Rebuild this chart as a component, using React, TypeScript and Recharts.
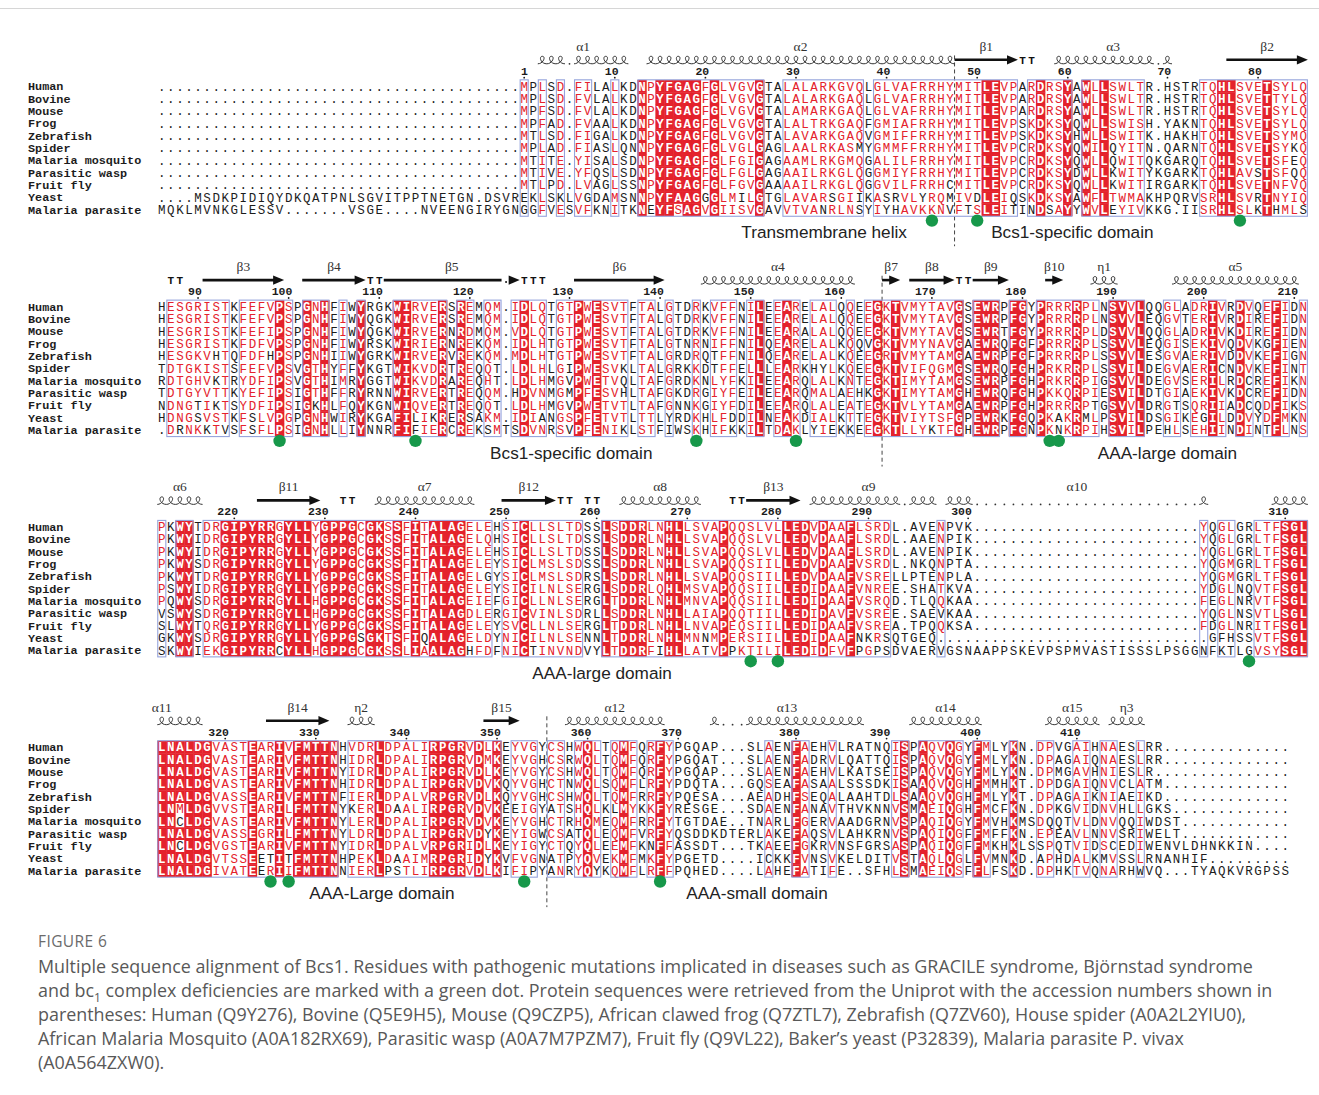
import React from 'react';
import { ScatterChart, Scatter, XAxis, YAxis, ReferenceLine } from 'recharts';

// ---- alignment data -------------------------------------------------------

const species = [
  'Human', 'Bovine', 'Mouse', 'Frog', 'Zebrafish', 'Spider',
  'Malaria mosquito', 'Parasitic wasp', 'Fruit fly', 'Yeast', 'Malaria parasite',
];

const D10 = '..........';

const block1 = [
  D10 + D10 + D10 + D10 + 'MP' + 'LSD.FILALKDNPYFGAGFGLVGVGTALALARKGVQLGLVAFR' + 'RHYMITLEVPARDRSYAWLLSWLTR.HSTRTQHLSVETSYLQ',
  D10 + D10 + D10 + D10 + 'MP' + 'LSD.FVLALKDNPYFGAGFGLVGVGTALALARKGAQLGLVAFR' + 'RHYMITLEVPARDRSYAWLLSWLTR.HSTRTQHLSVETTYLQ',
  D10 + D10 + D10 + D10 + 'MP' + 'FSD.FVLALKDNPYFGAGFGLVGVGTALAMARKGAQLGLVAFR' + 'RHYMITLEVPARDRSYAWLLSWLTR.HSTRTQHLSVETSYLQ',
  D10 + D10 + D10 + D10 + 'MP' + 'FAD.FVAALKDNPYFGAGFGLVGVGTALALTRKGAQFGMIAFR' + 'RHYMITLEVPSKDKSYQWLLSWISH.YAKNTQHLSVETSYLQ',
  D10 + D10 + D10 + D10 + 'MT' + 'LSD.FIGALKDNPYFGAGFGLVGVGTALAVARKGAQVGMIFFR' + 'RHYMITLEVPSKDKSYHWLLSWITK.HAKHTQHLSVETSYMQ',
  D10 + D10 + D10 + D10 + 'MP' + 'LAD.FIASLQNNPYFGAGFGLVGLGAGLAALRKASMYGMMFFR' + 'RHYMITLEVPCRDKSYQWILQYITN.QARNTQHLSVETSYKQ',
  D10 + D10 + D10 + D10 + 'MT' + 'ITE.YISALSDNPYFGAGFGLFGIGAGAAMLRKGMQGALILFR' + 'RHYMITLEVPCRDKSYQWLLQWITQKGARQTQHLSVETSFEQ',
  D10 + D10 + D10 + D10 + 'MT' + 'IVE.YFQSLSDNPYFGAGFGLFGLGAGAAILRKGLQGGMIYFR' + 'RHYMITLEVPCRDKSYDWLLKWITYKGARKTQHLAVSTSFQQ',
  D10 + D10 + D10 + D10 + 'MT' + 'LPD.LVAGLSSNPYFGAGFGLFGVGAAAAILRKGLQGGVILFR' + 'RHCMITLEVPCRDKSYQWLLKWITIRGARKTQHLSVETNFVQ',
  '....MSDKPIDIQYDKQATPNLSGVITPPTNETGN.DSVREK' + 'LSKLVGDAMSNNPYFAAGGGLMILGTGLAVARSGIIKASRVLY' + 'RQMIVDLEIQSKDKSYAWFLTWMAKHPQRVSRHLSVRTNYIQ',
  'MQKLMVNKGLESSV.......VSGE....NVEENGIRYGNGG' + 'FVESVFKNITKNEYFSAGVGIISVGAVVTVANRLNSYIYHAVK' + 'KNVFTSLEITINDSAYYWVLEYIVKKG.IISRHLSLKTHMLS',
];

const block2 = [
  'HESGRISTKFEFVPSPGNHFIWYRGKWIRVERSREMQM.IDLQ' + 'TGTPWESVTFTALGTDRKVFFNILEEARELALQQEEGKTVMY' + 'TAVGSEWRPFGYPRRRRPLNSVVLQQGLADRIVRDVQEFIDN',
  'HESGRISTKFEFVPSPGNHFIWYQGKWIRVERSREMQM.IDLQ' + 'TGTPWESVTFTALGTDRKVFFNILEEARELALQQEEGKTVMY' + 'TAVGSEWRPFGYPRRRRPLNSVVLEQGVTERIVRDIREFIDN',
  'HESGRISTKFEFIPSPGNHFIWYQGKWIRVERNRDMQM.VDLQ' + 'TGTPWESVTFTALGTDRKVFFNILEEARALALQQEEGKTVMY' + 'TAVGSEWRTFGYPRRRRPLDSVVLQQGLADRIVKDIREFIDN',
  'HESGRISTKFDFVPSPGNHFIWYRSKWIRIERNREKQM.IDLH' + 'TGTPWESVTFTALGTNRNIFFNILQEARELALKQQVGKTVMY' + 'NAVGAEWRQFGFPRRRRPLSSVVLEQGISEKIVQDVKGFIEN',
  'HESGKVHTQFDFHPSPGNHIIWYGRKWIRVERVREKQM.MDLH' + 'TGTPWESVTFTALGRDRQTFFNILQEARELALKQEEGRTVMY' + 'TAMGAEWRPFGFPRRRRPLSSVVLESGVAERIVDDVKEFIGN',
  'TDTGKISTSFEFVPSVGTHYFFYKGTWIKVDRTREQQT.LDLH' + 'LGIPWESVKLTALGRKKDTFFELLLEARKHYLKQEEGKTVIF' + 'QGMGSEWRQFGHPRKRRPLSSVILDEGVAERICNDVKEFINT',
  'RDTGHVKTRYDFIPSVGTHIMRYGGTWIKVDRAREQHT.LDLH' + 'MGVPWETVQLTAFGRDKNLYFKILEEARQLALKNTEGKTIMY' + 'TAMGSEWRPFGHPRKRRPIGSVVLDEGVSERILRDCREFIKN',
  'TDTGYVTTKYEFIPSIGTHFFRYRNNWIRVERTREQQM.HDVN' + 'MGMPFESVHLTAFGKDRGIYFEILEEARQMALAEHKGKTIMY' + 'TAMGHEWRQFGHPKKQRPIESVILDTGIAEKIVKDCREFIDN',
  'NDNGTIKTSYDFIPSIGKHLFQYKGNWIQVERTREQQT.LDLH' + 'MGVPWETVTLTAFGNNKGIYFDILEEARQLALEATEGKTVLY' + 'TAMGAEWRPFGHPRRRRPTGSVVLDRGTSQRIIADCQDFIKS',
  'HDNGSVSTKFSLVPGPGNHWIRYKGAFILIKRERSAKM.IDIA' + 'NGSPFETVTLTTLYRDKHLFDDILNEAKDIALKTTEGKTVIY' + 'TSFGPEWRKFGQPKAKRMLPSVILDSGIKEGILDDVYDFMKN',
  '.DRNKKTVSFSFLPSIGNHLLIYNNRFIFIERCREKSMTSDVN' + 'RSVPFENIKLSTFIWSKHIFKKILTDAKLYIEKKEEGKTLLY' + 'KTFGHEWRPFGNPKNKRPIHSVILPEHLSEHIINDINTFLNS',
];

const block3 = [
  'PKWYTDRGIPYRRGYLLYGPPGCGKSSFITALAGELEHSICLL' + 'SLTDSSLSDDRLNHLLSVAPQQSLVLLEDVDAAFLSRDL.AV' + 'ENPVK' + D10 + D10 + '.....' + 'YQGLGRLTFSGL',
  'PKWYIDRGIPYRRGYLLYGPPGCGKSSFITALAGELQHSICLL' + 'SLTDSSLSDDRLNHLLSVAPQQSLVLLEDVDAAFLSRDL.AA' + 'ENPIK' + D10 + D10 + '.....' + 'YQGLGRLTFSGL',
  'PKWYIDRGIPYRRGYLLYGPPGCGKSSFITALAGELEHSICLL' + 'SLTDSSLSDDRLNHLLSVAPQQSLVLLEDVDAAFLSRDL.AV' + 'ENPIK' + D10 + D10 + '.....' + 'YQGLGRLTFSGL',
  'PKWYSDRGIPYRRGYLLYGPPGCGKSSFITALAGELEYSICLM' + 'SLSDSSLSDDRLNHLLSVAPQQSIILLEDVDAAFVSRDL.NK' + 'QNPTA' + D10 + D10 + '.....' + 'YQGMGRLTFSGL',
  'PKWYTDRGIPYRRGYLLYGPPGCGKSSFITALAGELGYSICLM' + 'SLSDRSLSDDRLNHLLSVAPQQSIILLEDVDAAFVSRELLPT' + 'ENPLA' + D10 + D10 + '.....' + 'YQGMGRLTFSGL',
  'PSWYIDRGIPYRRGYLLYGPPGCGKSSFITALAGELEYSICIL' + 'NLSERGLSDDRLQHLMSVAPQQSIILLEDIDAAFVNREE.SH' + 'ATKVA' + D10 + D10 + '.....' + 'YDGLNQVTFSGL',
  'PQWYSDRGIPYRRGYLLHGPPGCGKSSFITALAGEIEFGICLL' + 'NLSERGLTDDRLNHLMNVAPQQSIILLEDIDAAFVSRQD.TL' + 'QQKAA' + D10 + D10 + '.....' + 'FEGLNRVTFSGL',
  'VSWYSDRGIPYRRGYLLHGPPGCGKSSFITALAGDLERGICVI' + 'NLSDRLLSDDRLNHLLAIAPQQTIILLEDIDAVFVSREE.SA' + 'EVKAA' + D10 + D10 + '.....' + 'YQGLNSVTLSGL',
  'SLWYTQRGIPYRRGYLLYGPPGCGKSSFITALAGELEYSVCLL' + 'NLSERGLTDDRLNHLLNVAPEQSIILLEDIDAAFVSREA.TP' + 'QQKSA' + D10 + D10 + '.....' + 'FDGLNRITFSGL',
  'GKWYSDRGIPYRRGYLLYGPPGSGKTSFIQALAGELDYNICIL' + 'NLSENNLTDDRLNHLMNNMPERSIILLEDIDAAFNKRSQTGE' + 'Q' + D10 + D10 + D10 + 'GFHSSVTFSGL',
  'SKWYIEKGIPYRRCYLLHGPPGCGKSSLIAALAGHFDFNICTI' + 'NVNDVYLTDDRFIHLLATVPPKTILILEDIDFVFPGPSDVAE' + 'RVGSNAAPPSKEVPSPMVASTISSSLPSGGNFKTLGVSYSGL',
];

const block4 = [
  'LNALDGVASTEARIVFMTTNHVDRLDPALIRPGRVDLKEYVGY' + 'CSHWQLTQMFQRFYPGQAP...SLAENFAEHVLRATNQISPA' + 'QVQGYFMLYKN.DPVGAIHNAESLRR' + D10 + '....',
  'LNALDGVASTEARIVFMTTNHIDRLDPALIRPGRVDMKEYVGH' + 'CSRWQLTQMFQRFYPGQAT...SLAENFADRVLQATTQISPA' + 'QVQGYFMLYKN.DPAGAIQNAESLRR' + D10 + '....',
  'LNALDGVASTEARIVFMTTNYIDRLDPALIRPGRVDLKEYVGY' + 'CSHWQLTQMFQRFYPGQAP...SLAENFAEHVLKATSEISPA' + 'QVQGYFMLYKN.DPMGAVHNIESLR' + D10 + '.....',
  'LNALDGVASTEARIVFMTTNHIDRLDPALIRPGRVDVKQYVGH' + 'CTNWQLSQMFLRFYPDQTA...GQSEAFASAALSSSDKISAA' + 'QVQGHFMMHKT.DPDGAIQNVCLATM' + D10 + '....',
  'LNALDGVASSEARIVFMTTNFIERLDPALVRPGRVDLKQYVGH' + 'CSHWQLTQMFRRFYPQESA...AEADHFSEQALAAHTDLSAA' + 'QVQGHFMLYKT.DPAGAIKNIAEIKD' + D10 + '....',
  'LNMLDGVVSTEARILFMTTNYKERLDAALIRPGRVDVKEEIGY' + 'ATSHQLKLMYKKFYRESGE...SDAENFANAVTHVKNNVSMA' + 'EIQGHFMCFKN.DPKGVIDNVHLLGKS' + D10 + '...',
  'LNCLDGVASTEARIVFMTTNYLERLDPALIRPGRVDVKEYVGH' + 'CTRHQMEQMFRRFYTGTDAE..TNARLFGERVAADGRNVSPA' + 'QIQGYFMVHKMSDQQTVLDNVQQIWDST' + D10 + '..',
  'LNALDGVASSEGRILFMTTNYLDRLDPALIRPGRVDYKEYIGW' + 'CSATQLEQMFVRFYQSDDKDTERLAKEFAQSVLAHKRNVSPA' + 'QIQGFFMFFKN.EPEAVLNNVSRIWELT' + D10 + '..',
  'LNCLDGVGSTEARIVFMTTNYIDRLDPALVRPGRIDLKEYIGY' + 'CTQYQLEEMFKNFFASSDT...TKAEEFGKRVNSFGRSASPA' + 'QIQGFFMKHKLSSPQTVIDSCEDIWENVLDHNKKIN' + '....',
  'LNALDGVTSSEETITFMTTNHPEKLDAAIMRPGRIDYKVFVGN' + 'ATPYQVEKMFMKFYPGETD....ICKKFVNSVKELDITVSTA' + 'QLQGLFVMNKD.APHDALKMVSSLRNANHIF' + '.........',
  'LNALDGIVATEERIIFMTTNNIERLPSTLIRPGRVDLKIFIPY' + 'ANRYQYKQMFLRFFPQHED....LAHEFATIFE..SFHLSMA' + 'EIQSFFLFSKD.DPHKTVQNARHWVQ...TYAQKVRGPSS',
];

// framed (similar) column runs and strongly conserved columns, per block
const boxes1 = [[40, 40], [42, 42], [44, 44], [46, 47], [50, 50], [53, 66], [69, 77], [79, 94], [96, 100], [102, 108], [115, 126]];
const red1 = [53, 55, 56, 57, 58, 59, 61, 66, 91, 92, 97, 100, 102, 104, 117, 118, 122];

const boxes2 = [[1, 7], [9, 14], [16, 18], [20, 20], [22, 22], [26, 31], [33, 34], [36, 37], [39, 42], [44, 51], [53, 54], [56, 56], [59, 59], [61, 63], [65, 66], [68, 70], [72, 74], [76, 76], [78, 88], [90, 92], [94, 95], [97, 103], [105, 108], [111, 112], [114, 117], [119, 120], [122, 124], [126, 126]];
const red2 = [13, 16, 18, 22, 26, 27, 31, 33, 40, 46, 48, 66, 69, 79, 81, 88, 90, 91, 92, 94, 95, 97, 101, 105, 106, 108, 116, 119, 123];

const boxes3 = [[0, 0], [2, 3], [5, 36], [38, 46], [49, 80], [86, 86], [115, 115], [117, 118], [121, 126]];
const red3 = [2, 3, 7, 8, 9, 10, 11, 12, 14, 15, 16, 18, 19, 20, 21, 23, 24, 26, 28, 30, 31, 32, 33, 40, 49, 51, 52, 53, 56, 57, 62, 69, 70, 71, 73, 76, 124, 125, 126];

const boxes4 = [[0, 19], [21, 37], [39, 41], [43, 44], [46, 48], [50, 52], [54, 56], [67, 67], [70, 71], [74, 74], [81, 82], [84, 88], [90, 91], [94, 94], [97, 98], [101, 102], [104, 105], [108, 108]];
const red4 = [0, 1, 2, 3, 4, 5, 10, 13, 15, 16, 17, 18, 19, 24, 30, 31, 32, 33, 35, 37, 47, 51, 55, 70, 82, 84, 87, 90, 94];

// residue numbering shown above each block: [column, label]
const nums1 = [[40, '1'], [50, '10'], [60, '20'], [70, '30'], [80, '40'], [90, '50'], [100, '60'], [111, '70'], [121, '80']];
const nums2 = [[4, '90'], [14, '100'], [24, '110'], [34, '120'], [45, '130'], [55, '140'], [65, '150'], [75, '160'], [85, '170'], [95, '180'], [105, '190'], [115, '200'], [125, '210']];
const nums3 = [[8, '220'], [18, '230'], [28, '240'], [38, '250'], [48, '260'], [58, '270'], [68, '280'], [78, '290'], [89, '300'], [124, '310']];
const nums4 = [[7, '320'], [17, '330'], [27, '340'], [37, '350'], [47, '360'], [57, '370'], [70, '380'], [80, '390'], [90, '400'], [101, '410']];

// secondary structure: helix / strand / turn, column ranges
type Sse = { kind: 'helix' | 'strand' | 'turn'; from: number; to: number; label?: string; labelAt?: number; gaps?: number[][] };
const sse1: Sse[] = [
  { kind: 'helix', from: 42, to: 51, gaps: [[45, 45]], label: 'α1' },
  { kind: 'helix', from: 54, to: 87, label: 'α2' },
  { kind: 'strand', from: 88, to: 94, label: 'β1' },
  { kind: 'turn', from: 95, to: 96 },
  { kind: 'helix', from: 99, to: 111, gaps: [[110, 110]], label: 'α3' },
  { kind: 'strand', from: 118, to: 126, label: 'β2' },
];
const sse2: Sse[] = [
  { kind: 'turn', from: 1, to: 2 },
  { kind: 'strand', from: 5, to: 13, label: 'β3' },
  { kind: 'strand', from: 16, to: 22, label: 'β4' },
  { kind: 'turn', from: 23, to: 24 },
  { kind: 'strand', from: 25, to: 39, gaps: [[38, 38]], label: 'β5', labelAt: 32 },
  { kind: 'turn', from: 40, to: 42 },
  { kind: 'strand', from: 46, to: 55, label: 'β6' },
  { kind: 'helix', from: 60, to: 76, label: 'α4' },
  { kind: 'strand', from: 80, to: 81, label: 'β7' },
  { kind: 'strand', from: 83, to: 87, label: 'β8' },
  { kind: 'turn', from: 88, to: 89 },
  { kind: 'strand', from: 90, to: 93, label: 'β9' },
  { kind: 'strand', from: 98, to: 99, label: 'β10' },
  { kind: 'helix', from: 103, to: 105, label: 'η1' },
  { kind: 'helix', from: 112, to: 125, label: 'α5' },
];
const sse3: Sse[] = [
  { kind: 'helix', from: 0, to: 4, label: 'α6' },
  { kind: 'strand', from: 11, to: 17, label: 'β11' },
  { kind: 'turn', from: 20, to: 21 },
  { kind: 'helix', from: 24, to: 34, label: 'α7' },
  { kind: 'strand', from: 38, to: 43, label: 'β12' },
  { kind: 'turn', from: 44, to: 45 },
  { kind: 'turn', from: 47, to: 48 },
  { kind: 'helix', from: 51, to: 59, label: 'α8' },
  { kind: 'turn', from: 63, to: 64 },
  { kind: 'strand', from: 65, to: 70, label: 'β13' },
  { kind: 'helix', from: 72, to: 85, gaps: [[82, 82]], label: 'α9', labelAt: 78 },
  { kind: 'helix', from: 87, to: 115, gaps: [[90, 114]], label: 'α10', labelAt: 101 },
  { kind: 'helix', from: 123, to: 126 },
];
const sse4: Sse[] = [
  { kind: 'helix', from: 0, to: 4, label: 'α11', labelAt: 0 },
  { kind: 'strand', from: 12, to: 18, label: 'β14' },
  { kind: 'helix', from: 21, to: 23, label: 'η2' },
  { kind: 'strand', from: 36, to: 39, label: 'β15' },
  { kind: 'helix', from: 45, to: 55, label: 'α12' },
  { kind: 'helix', from: 61, to: 77, gaps: [[62, 64]], label: 'α13', labelAt: 69 },
  { kind: 'helix', from: 83, to: 90, label: 'α14' },
  { kind: 'helix', from: 98, to: 103, label: 'α15' },
  { kind: 'helix', from: 105, to: 108, label: 'η3' },
];

// pathogenic mutation sites (green dots), per block
const dots1 = [85, 90, 119];
const dots2 = [13, 28, 59, 70, 98, 99];
const dots3 = [65, 68, 120];
const dots4 = [12, 14, 40, 55];

// domain annotations under blocks: [block, centre column, text]
const domains: [number, number, string][] = [
  [0, 73.1, 'Transmembrane helix'], [0, 100.5, 'Bcs1-specific domain'],
  [1, 45.2, 'Bcs1-specific domain'], [1, 111, 'AAA-large domain'],
  [2, 48.6, 'AAA-large domain'],
  [3, 24.3, 'AAA-Large domain'], [3, 65.7, 'AAA-small domain'],
];

// domain boundaries (dashed): [block, column edge]
const boundaries = [[0, 87.5], [1, 79.5], [3, 42.5]];

const captionLines = [
  'Multiple sequence alignment of Bcs1. Residues with pathogenic mutations implicated in diseases such as GRACILE syndrome, Björnstad syndrome',
  'and bc|1| complex deficiencies are marked with a green dot. Protein sequences were retrieved from the Uniprot with the accession numbers shown in',
  'parentheses: Human (Q9Y276), Bovine (Q5E9H5), Mouse (Q9CZP5), African clawed frog (Q7ZTL7), Zebrafish (Q7ZV60), House spider (A0A2L2YIU0),',
  'African Malaria Mosquito (A0A182RX69), Parasitic wasp (A0A7M7PZM7), Fruit fly (Q9VL22), Baker’s yeast (P32839), Malaria parasite P. vivax',
  '(A0A564ZXW0).',
];

// ---- layout ---------------------------------------------------------------

const W = 1319;
const CHART_H = 925;
const PITCH = 9.06;
const ROWH = 12.35;
const X0 = 161.8;
const TOP0 = 86.3;
const BR = 220.3 / ROWH;
const RED = '#e4222c';
const FRAME = '#95a3dc';
const INK = '#1c1c1c';
const MONO = '"Liberation Mono", "DejaVu Sans Mono", monospace';

const blocks = [block1, block2, block3, block4];
const boxes = [boxes1, boxes2, boxes3, boxes4];
const reds = [red1, red2, red3, red4];
const nums = [nums1, nums2, nums3, nums4];
const sses = [sse1, sse2, sse3, sse4];
const dots = [dots1, dots2, dots3, dots4];

const STRICT = ['ILVM', 'FYW', 'KR', 'DE', 'NQ', 'ST', 'AG'];
const LOOSE = ['AILVMF', 'FYWH', 'KRHQ', 'DENQ', 'STAGN'];
const similar = (a: string, b: string, groups: string[]) =>
  a === b || groups.some((g) => g.includes(a) && g.includes(b));

type Tone = 'bg' | 'red' | 'plain';

function columnTones(col: string[], strong: boolean): Tone[] {
  const res = col.filter((c) => c !== '.' && c !== ' ');
  const count: Record<string, number> = {};
  res.forEach((c) => (count[c] = (count[c] || 0) + 1));
  const keys = Object.keys(count);
  let mode = keys[0];
  keys.forEach((k) => { if (count[k] > count[mode]) mode = k; });
  if (strong) {
    return col.map((c) => (c === '.' || c === ' ' ? 'plain'
      : similar(c, mode, STRICT) ? 'bg' : similar(c, mode, LOOSE) ? 'red' : 'plain'));
  }
  let center = mode;
  let best = -1;
  keys.forEach((k) => {
    const s = res.filter((c) => similar(c, k, LOOSE)).length * 100 + count[k];
    if (s > best) { best = s; center = k; }
  });
  return col.map((c) => (c !== '.' && c !== ' ' && similar(c, center, LOOSE) ? 'red' : 'plain'));
}

const cells: { x: number; y: number; ch: string; tone: Tone }[] = [];
const frames: { x: number; y: number; span: number }[] = [];
const nameRows: { x: number; y: number; name: string }[] = [];
const numberMarks: { x: number; y: number; label: string }[] = [];
const sseMarks: (Sse & { x: number; y: number })[] = [];
const dotMarks: { x: number; y: number }[] = [];
const NAME_X = (28 - X0) / PITCH;

blocks.forEach((rows, b) => {
  const len = Math.max(...rows.map((s) => s.length));
  const strong = new Set(reds[b]);
  const inBox = (c: number) => boxes[b].some(([a, e]) => c >= a && c <= e);
  for (let c = 0; c < len; c++) {
    const col = rows.map((s) => s[c] ?? ' ');
    const tones: Tone[] = inBox(c) ? columnTones(col, strong.has(c)) : col.map(() => 'plain');
    col.forEach((ch, r) => {
      if (ch !== ' ') cells.push({ x: c, y: b * BR + r, ch, tone: tones[r] });
    });
  }
  boxes[b].forEach(([a, e]) => frames.push({ x: a, y: b * BR, span: e - a + 1 }));
  species.forEach((name, r) => nameRows.push({ x: NAME_X, y: b * BR + r, name }));
  nums[b].forEach(([c, label]) => numberMarks.push({ x: c as number, y: b * BR, label: label as string }));
  sses[b].forEach((s) => sseMarks.push({ ...s, x: s.from, y: b * BR }));
  dots[b].forEach((c) => dotMarks.push({ x: c, y: b * BR + 10 }));
});
const domainMarks = domains.map(([b, c, text]) => ({ x: c, y: b * BR + 10, text }));

// ---- shapes ---------------------------------------------------------------

const CellShape = (p: any) => {
  const { cx, cy, payload } = p;
  if (cx == null || cy == null) return null;
  const { ch, tone } = payload;
  return (
    <g>
      {tone === 'bg' && (
        <rect x={cx - PITCH / 2 - 0.2} y={cy - ROWH / 2 - 0.2} width={PITCH + 0.4} height={ROWH + 0.4} fill={RED} />
      )}
      <text x={cx} y={cy + 4.2} textAnchor="middle" fontFamily={MONO} fontSize={12.5}
        fontWeight={tone === 'bg' ? 700 : 400} fill={tone === 'bg' ? '#fff' : tone === 'red' ? RED : INK}>
        {ch}
      </text>
    </g>
  );
};

const FrameShape = (p: any) => {
  const { cx, cy, payload } = p;
  if (cx == null || cy == null) return null;
  return (
    <rect x={cx - PITCH / 2 + 0.5} y={cy - ROWH / 2 - 0.3} width={payload.span * PITCH - 1}
      height={11 * ROWH + 0.6} fill="none" stroke={FRAME} strokeWidth={1.1} />
  );
};

const NameShape = (p: any) => {
  const { cx, cy, payload } = p;
  if (cx == null || cy == null) return null;
  return (
    <text x={cx} y={cy + 4} fontFamily={MONO} fontWeight={700} fontSize={11.8} fill={INK}>{payload.name}</text>
  );
};

const NumberShape = (p: any) => {
  const { cx, cy, payload } = p;
  if (cx == null || cy == null) return null;
  return (
    <g>
      <text x={cx + 3.8} y={cy - 11.6} textAnchor="end" fontFamily={MONO} fontWeight={700} fontSize={11.5} fill={INK}>
        {payload.label}
      </text>
      <circle cx={cx} cy={cy - 8.6} r={0.9} fill={INK} />
    </g>
  );
};

const SseShape = (p: any) => {
  const { cx, cy, payload } = p;
  if (cx == null || cy == null) return null;
  const e = payload as Sse;
  const xAt = (c: number) => cx + (c - e.from) * PITCH;
  const isGap = (c: number) => (e.gaps || []).some(([a, b]) => c >= a && c <= b);
  const parts: React.ReactNode[] = [];
  if (e.kind === 'helix') {
    const yb = cy - 22.5;
    const yt = yb - 7.5;
    let d = '';
    for (let c = e.from; c <= e.to; c++) {
      if (isGap(c)) {
        parts.push(<circle key={'g' + c} cx={xAt(c)} cy={yb} r={0.9} fill="#333" />);
        continue;
      }
      const xl = xAt(c) - PITCH / 2;
      const q = PITCH;
      d += `M${xl},${yb} C${xl + q * 0.62},${yb} ${xl + q * 0.92},${yt} ${xl + q * 0.5},${yt} C${xl + q * 0.1},${yt} ${xl + q * 0.3},${yb} ${xl + q},${yb} `;
    }
    parts.push(<path key="h" d={d} fill="none" stroke="#333" strokeWidth={1} />);
  } else if (e.kind === 'strand') {
    const y = cy - 26.5;
    const segs: number[][] = [];
    let start = -1;
    for (let c = e.from; c <= e.to; c++) {
      if (isGap(c)) {
        if (start >= 0) segs.push([start, c - 1]);
        start = -1;
        parts.push(<circle key={'g' + c} cx={xAt(c)} cy={y + 2} r={1} fill="#111" />);
      } else if (start < 0) start = c;
    }
    if (start >= 0) segs.push([start, e.to]);
    segs.forEach(([a, b], i) => {
      const x1 = xAt(a) - PITCH / 2;
      const x2 = xAt(b) + PITCH / 2;
      const last = i === segs.length - 1;
      const end = last ? Math.max(x1, x2 - 9) : x2;
      if (end > x1) parts.push(<line key={'l' + i} x1={x1} x2={end} y1={y} y2={y} stroke="#111" strokeWidth={2.6} />);
      if (last) parts.push(<polygon key={'a' + i} points={`${x2 - 11},${y - 4.6} ${x2},${y} ${x2 - 11},${y + 4.6}`} fill="#111" />);
    });
  } else {
    for (let c = e.from; c <= e.to; c++) {
      parts.push(
        <text key={'t' + c} x={xAt(c)} y={cy - 22.6} textAnchor="middle" fontFamily={MONO} fontWeight={700} fontSize={11} fill="#111">T</text>,
      );
    }
  }
  if (e.label) {
    parts.push(
      <text key="lab" x={xAt(e.labelAt ?? (e.from + e.to) / 2)} y={cy - 35.5} textAnchor="middle"
        fontFamily='"Liberation Serif", "DejaVu Serif", serif' fontSize={13.5} fill="#333">{e.label}</text>,
    );
  }
  return <g>{parts}</g>;
};

const DotShape = (p: any) => {
  const { cx, cy } = p;
  if (cx == null || cy == null) return null;
  return <circle cx={cx} cy={cy + 10.8} r={6.2} fill="#17984a" />;
};

const DomainShape = (p: any) => {
  const { cx, cy, payload } = p;
  if (cx == null || cy == null) return null;
  return (
    <text x={cx} y={cy + 28.6} textAnchor="middle" fontFamily='"Liberation Sans", Arial, sans-serif' fontSize={17.2} fill="#222">
      {payload.text}
    </text>
  );
};

const Caption = ({ text }: { text: string }) => {
  const parts = text.split('|');
  return (
    <>
      {parts.map((t, i) => (i % 2 === 1 ? <sub key={i} style={{ fontSize: 12, lineHeight: 0 }}>{t}</sub> : <span key={i}>{t}</span>))}
    </>
  );
};

export default function App() {
  const xDomain = [-X0 / PITCH, (W - X0) / PITCH];
  const yDomain = [-TOP0 / ROWH, (CHART_H - TOP0) / ROWH];
  return (
    <div style={{ position: 'absolute', left: 0, top: 0, width: W, height: 1095, background: '#fff', overflow: 'hidden' }}>
      <div style={{ position: 'absolute', left: 0, top: 8, width: W, height: 1, background: '#d6d6d6' }} />
      <ScatterChart width={W} height={CHART_H} margin={{ top: 0, right: 0, bottom: 0, left: 0 }}>
        <XAxis type="number" dataKey="x" domain={xDomain} allowDataOverflow hide />
        <YAxis type="number" dataKey="y" domain={yDomain} allowDataOverflow reversed hide />
        <Scatter name="cells" data={cells} shape={CellShape} isAnimationActive={false} />
        <Scatter name="frames" data={frames} shape={FrameShape} isAnimationActive={false} />
        <Scatter name="names" data={nameRows} shape={NameShape} isAnimationActive={false} />
        <Scatter name="numbers" data={numberMarks} shape={NumberShape} isAnimationActive={false} />
        <Scatter name="sse" data={sseMarks} shape={SseShape} isAnimationActive={false} />
        <Scatter name="mutations" data={dotMarks} shape={DotShape} isAnimationActive={false} />
        <Scatter name="domains" data={domainMarks} shape={DomainShape} isAnimationActive={false} />
        {boundaries.map(([b, c]) => (
          <ReferenceLine key={'b' + b} segment={[{ x: c, y: b * BR - 2.5 }, { x: c, y: b * BR + 12.95 }]}
            stroke="#444" strokeDasharray="4 3" strokeWidth={1} ifOverflow="visible" />
        ))}
      </ScatterChart>
      <div style={{ position: 'absolute', left: 38, top: 930, fontFamily: '"Open Sans", sans-serif', fontSize: 15.5, color: '#6b6b6b', letterSpacing: 0.4 }}>
        FIGURE 6
      </div>
      {captionLines.map((line, i) => (
        <div key={i} style={{ position: 'absolute', left: 38, top: 954 + i * 24, whiteSpace: 'nowrap', fontFamily: '"Open Sans", sans-serif', fontSize: 17.9, lineHeight: '24px', color: '#585858' }}>
          <Caption text={line} />
        </div>
      ))}
    </div>
  );
}
